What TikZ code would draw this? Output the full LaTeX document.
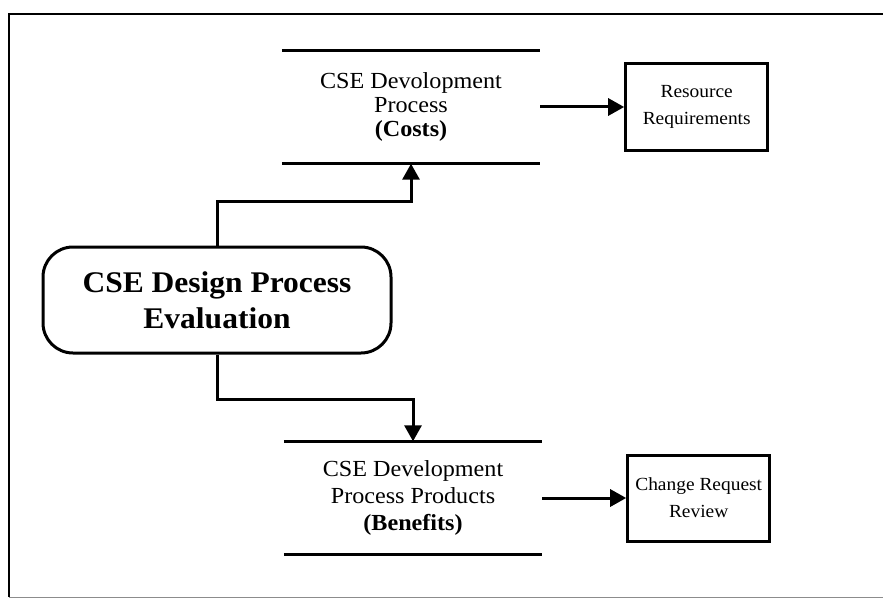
\documentclass[tikz,border=0pt]{standalone}
\usepackage{fontspec}
\setmainfont[FakeStretch=1.05]{Liberation Serif}
\usetikzlibrary{arrows.meta,positioning}
\tikzset{
  >={Triangle[length=16pt,width=17pt]},
  flow/.style={->,line width=3pt},
  rule/.style={line width=3.2pt},
  storebox/.style={minimum width=258pt,minimum height=113pt,inner sep=0pt,
    align=center,font=\fontsize{23}{24}\selectfont},
  plainbox/.style={draw,line width=3pt,minimum width=142pt,minimum height=86pt,
    inner sep=0pt,align=center,font=\fontsize{18.5}{27}\selectfont},
  evalbox/.style={draw,line width=3pt,rounded corners=30pt,minimum width=348pt,
    minimum height=106pt,inner sep=0pt,align=center,
    font=\bfseries\fontsize{30}{36}\selectfont}
}

\begin{document}
\begin{tikzpicture}[x=1pt,y=-1pt,node distance=84pt]
  \useasboundingbox (0,0) rectangle (883,599);
  \draw[line width=2.5pt] (883,14) -- (9,14) -- (9,597);
  \draw[line width=1pt,black!45] (9,597) -- (883,597);

  \node[evalbox] (eval) at (217,300) {CSE Design Process\\Evaluation};
  \node[storebox] (costs) at (411,107) {CSE Devolopment\\Process\\\textbf{(Costs)}};
  \node[storebox,font=\fontsize{23}{27}\selectfont] (benefits) at (413,498)
    {CSE Development\\Process Products\\\textbf{(Benefits)}};
  \node[plainbox,right=of costs] (resreq) {Resource\\Requirements};
  \node[plainbox,right=of benefits] (change) {Change Request\\Review};

  \draw[rule] (costs.north west) -- (costs.north east);
  \draw[rule] (costs.south west) -- (costs.south east);
  \draw[rule] (benefits.north west) -- (benefits.north east);
  \draw[rule] (benefits.south west) -- (benefits.south east);

  \draw[flow] (eval.north) -- ++(0,-44) -| (costs.south);
  \draw[flow] (eval.south) -- ++(0,45) -| (benefits.north);
  \draw[flow] (costs) -- (resreq);
  \draw[flow] (benefits) -- (change);
\end{tikzpicture}
\end{document}
